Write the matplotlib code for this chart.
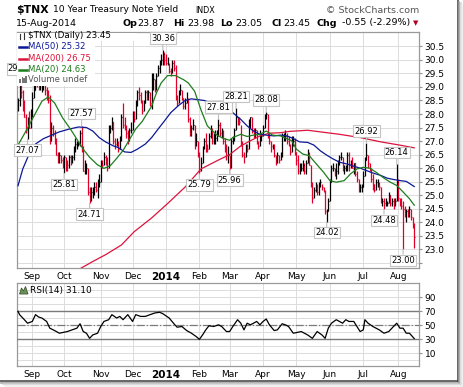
import numpy as np
import matplotlib.pyplot as plt
from matplotlib.lines import Line2D
from matplotlib.patches import Rectangle, Polygon

# ---- daily bars, 20-Aug-2013 .. 15-Aug-2014 (250 trading days) ----
highs = [28.6, 29.22, 29.1, 28.9, 28.5, 28.0, 27.9, 28.1, 28.2, 28.8,
         29.2, 29.9, 30.07, 29.4, 29.3, 29.3, 29.3, 29.2, 29.0, 28.9,
         28.7, 27.7, 27.6, 27.4, 27.1, 26.6, 26.6, 26.5, 26.4, 26.5,
         26.4, 26.3, 26.5, 26.5, 26.5, 26.8, 27.1, 27.0, 27.0, 27.4,
         27.57, 26.8, 26.3, 26.2, 26.0, 25.3, 25.3, 25.3, 25.5, 25.5,
         25.6, 25.8, 26.3, 26.3, 26.6, 26.5, 26.4, 27.6, 27.6, 27.9,
         27.7, 27.1, 27.1, 27.0, 27.2, 28.0, 28.4, 27.9, 27.6, 27.4,
         27.5, 27.7, 28.1, 28.1, 28.5, 28.9, 29.0, 28.8, 28.5, 28.5,
         28.9, 28.9, 28.9, 28.8, 29.5, 29.5, 29.3, 29.5, 29.8, 30.0,
         30.2, 30.36, 30.3, 30.2, 30.1, 29.9, 29.7, 30.0, 30.0, 29.8,
         28.7, 28.9, 29.1, 28.9, 28.6, 28.6, 28.8, 28.6, 27.9, 27.6,
         27.8, 27.6, 27.3, 27.0, 26.6, 26.4, 26.8, 27.1, 27.3, 26.9,
         27.3, 27.6, 27.5, 27.3, 27.4, 27.4, 27.81, 27.7, 27.5, 27.4,
         27.1, 26.9, 26.8, 26.5, 27.1, 27.2, 27.5, 28.21, 27.9, 27.9,
         27.6, 27.0, 26.6, 26.9, 26.9, 27.8, 27.9, 27.9, 27.5, 27.5,
         27.4, 27.0, 27.4, 27.3, 27.6, 28.0, 28.08, 28.0, 27.3, 27.0,
         26.9, 26.9, 26.5, 26.6, 26.5, 26.6, 27.3, 27.3, 27.4, 27.3,
         27.2, 26.9, 27.2, 27.2, 27.1, 26.6, 26.5, 26.2, 26.2, 26.3,
         26.2, 26.3, 26.7, 26.6, 26.1, 25.5, 25.3, 25.5, 25.4, 25.5,
         25.6, 25.4, 25.3, 25.2, 24.5, 24.9, 25.6, 26.1, 26.2, 26.0,
         26.2, 26.3, 26.5, 26.6, 26.4, 26.1, 26.1, 26.6, 26.6, 26.3,
         26.4, 26.2, 26.2, 25.9, 25.6, 25.4, 25.4, 25.9, 26.4, 26.92,
         26.5, 26.2, 26.0, 25.8, 25.4, 25.6, 25.6, 25.5, 25.3, 24.9,
         24.9, 24.9, 24.8, 25.1, 25.0, 24.9, 24.9, 24.9, 26.14, 25.6,
         24.9, 24.9, 24.8, 24.6, 24.5, 24.5, 24.6, 24.5, 24.2, 23.98]
lows = [28.1, 28.3, 28.6, 28.1, 27.9, 27.3, 27.07, 27.5, 27.5, 27.9,
        28.6, 28.9, 29.0, 28.9, 28.9, 28.8, 28.9, 28.7, 28.5, 28.4,
        26.9, 27.0, 27.2, 26.9, 26.5, 26.2, 26.2, 26.2, 26.0, 25.81,
        25.9, 25.9, 26.0, 26.1, 26.2, 26.3, 26.6, 26.7, 26.8, 26.8,
        26.6, 25.9, 25.8, 25.8, 25.0, 24.71, 24.8, 24.9, 25.0, 25.1,
        24.9, 25.3, 25.5, 26.0, 26.1, 26.1, 25.9, 26.0, 27.3, 27.4,
        26.9, 26.7, 26.8, 26.6, 26.7, 27.0, 27.5, 27.4, 27.1, 26.9,
        27.0, 27.3, 27.4, 27.7, 27.8, 28.3, 28.5, 28.4, 28.0, 28.1,
        28.4, 28.5, 28.5, 28.3, 28.2, 28.9, 28.8, 28.9, 29.4, 29.5,
        29.8, 29.8, 29.8, 29.8, 29.8, 29.5, 29.4, 29.5, 29.6, 28.5,
        28.3, 28.4, 28.7, 28.5, 28.2, 28.2, 28.4, 27.7, 27.2, 27.2,
        27.4, 26.7, 26.8, 26.4, 25.79, 25.9, 26.2, 26.7, 26.6, 26.6,
        26.7, 27.1, 26.9, 26.9, 26.9, 27.0, 27.2, 27.2, 27.1, 26.9,
        26.6, 26.3, 26.2, 25.96, 26.0, 26.9, 27.0, 27.4, 27.6, 27.6,
        26.8, 26.4, 26.2, 26.4, 26.6, 26.7, 27.5, 27.3, 27.1, 27.1,
        26.9, 26.7, 26.8, 27.0, 27.2, 27.5, 27.8, 27.1, 26.9, 26.6,
        26.7, 26.4, 26.1, 26.2, 26.2, 26.3, 26.4, 27.0, 27.0, 26.9,
        26.8, 26.5, 26.6, 26.8, 26.5, 26.1, 25.8, 25.8, 25.9, 25.9,
        25.8, 25.8, 26.2, 26.1, 25.3, 24.7, 24.9, 25.1, 25.0, 25.0,
        25.3, 25.2, 25.1, 24.3, 24.02, 24.4, 24.8, 25.5, 25.9, 25.7,
        25.6, 25.8, 26.1, 26.3, 25.9, 25.8, 25.9, 25.9, 25.9, 26.0,
        26.0, 25.8, 25.7, 25.5, 25.1, 25.1, 25.1, 25.3, 25.7, 26.3,
        26.0, 25.9, 25.5, 25.2, 25.1, 25.2, 25.3, 25.2, 24.7, 24.6,
        24.48, 24.6, 24.6, 24.7, 24.6, 24.6, 24.5, 24.6, 24.8, 24.8,
        24.6, 24.5, 23.0, 24.2, 24.0, 24.2, 24.2, 24.1, 23.8, 23.05]
closes = [28.5, 29.0, 28.8, 28.2, 27.9, 27.4, 27.8, 27.5, 27.8, 28.6,
          28.9, 29.8, 29.3, 29.0, 29.1, 29.1, 29.1, 28.9, 28.6, 28.5,
          27.0, 27.5, 27.3, 27.1, 26.5, 26.4, 26.5, 26.3, 26.1, 26.4,
          26.2, 26.1, 26.4, 26.3, 26.4, 26.7, 26.9, 26.9, 26.9, 27.3,
          26.7, 25.9, 25.9, 26.0, 25.1, 25.0, 25.1, 25.1, 25.3, 25.2,
          25.4, 25.5, 26.2, 26.1, 26.4, 26.3, 26.0, 27.5, 27.5, 27.7,
          27.0, 26.9, 27.0, 26.7, 27.1, 27.9, 27.6, 27.5, 27.3, 27.0,
          27.4, 27.4, 28.0, 27.8, 28.4, 28.8, 28.7, 28.5, 28.1, 28.4,
          28.8, 28.6, 28.8, 28.4, 28.9, 29.3, 28.9, 29.4, 29.7, 29.8,
          30.0, 30.2, 30.0, 29.9, 29.9, 29.6, 29.5, 29.9, 29.7, 28.6,
          28.4, 28.8, 28.9, 28.6, 28.3, 28.4, 28.7, 27.8, 27.3, 27.5,
          27.6, 26.8, 27.0, 26.5, 25.9, 26.2, 26.7, 27.0, 26.8, 26.7,
          27.2, 27.5, 27.0, 27.1, 27.1, 27.3, 27.6, 27.3, 27.4, 27.0,
          26.7, 26.5, 26.5, 26.0, 27.0, 27.1, 27.4, 27.9, 27.8, 27.7,
          26.9, 26.5, 26.4, 26.8, 26.7, 27.7, 27.9, 27.4, 27.3, 27.4,
          27.0, 26.8, 27.2, 27.2, 27.5, 27.9, 28.0, 27.2, 27.0, 26.8,
          26.9, 26.5, 26.2, 26.5, 26.3, 26.4, 27.2, 27.2, 27.2, 27.0,
          26.9, 26.6, 27.0, 27.0, 26.6, 26.3, 25.9, 26.0, 26.0, 26.1,
          25.9, 26.2, 26.6, 26.1, 25.4, 24.9, 25.2, 25.4, 25.1, 25.4,
          25.5, 25.3, 25.2, 24.4, 24.4, 24.8, 25.5, 26.0, 26.0, 25.9,
          25.9, 26.2, 26.4, 26.4, 26.0, 26.0, 26.0, 26.5, 26.1, 26.2,
          26.0, 26.2, 25.8, 25.6, 25.3, 25.3, 25.3, 25.7, 26.3, 26.5,
          26.2, 26.0, 25.6, 25.4, 25.2, 25.5, 25.5, 25.3, 24.8, 24.8,
          24.7, 24.7, 24.7, 25.0, 24.7, 24.8, 24.6, 24.8, 25.5, 24.9,
          24.8, 24.6, 24.5, 24.3, 24.4, 24.3, 24.5, 24.2, 24.0, 23.45]

# moving averages (bar index -> value)
ma20_idx = [0, 5, 10, 15, 19, 23, 28, 33, 37, 41, 45, 50, 54, 58, 62, 66, 70, 74, 78, 84,
            87, 90, 94, 99, 104, 107, 111, 115, 119, 125, 129, 133, 135, 140, 144, 148, 152,
            156, 160, 165, 169, 172, 175, 179, 183, 188, 192, 196, 200, 205, 209, 213, 217,
            221, 225, 230, 234, 238, 242, 246, 249]
ma20_val = [26.85, 27.37, 27.92, 28.47, 28.63, 28.41, 27.86, 27.44, 27.07, 26.70, 26.40,
            26.12, 25.99, 26.09, 26.36, 26.65, 27.05, 27.45, 27.72, 28.29, 28.78, 29.15,
            29.42, 29.42, 29.27, 29.15, 28.84, 28.15, 27.56, 27.22, 27.10, 27.03, 27.13,
            27.25, 27.17, 27.22, 27.25, 27.37, 27.22, 27.19, 27.09, 27.01, 26.70, 26.52,
            26.46, 26.12, 25.85, 25.54, 25.48, 25.54, 25.79, 25.97, 26.03, 26.0, 25.85,
            25.63, 25.48, 25.36, 25.12, 24.87, 24.63]
ma50_idx = [0, 3, 7, 11, 16, 20, 26, 32, 38, 43, 47, 51, 55, 60, 63, 67, 71, 75, 80, 84,
            88, 92, 96, 101, 105, 109, 113, 117, 122, 126, 131, 135, 140, 144, 148, 152,
            156, 161, 165, 169, 173, 177, 182, 186, 190, 194, 198, 202, 207, 211, 215,
            219, 223, 228, 232, 236, 240, 244, 249]
ma50_val = [25.35, 25.97, 26.52, 26.89, 27.09, 27.19, 27.34, 27.44, 27.52, 27.5, 27.37,
            27.13, 26.97, 26.82, 26.76, 26.60, 26.58, 26.70, 26.89, 27.13, 27.44, 27.74,
            28.05, 28.32, 28.5, 28.56, 28.53, 28.5, 28.39, 28.32, 28.19, 28.05, 27.8,
            27.56, 27.37, 27.25, 27.22, 27.19, 27.22, 27.19, 27.09, 26.97, 26.95, 26.85,
            26.64, 26.48, 26.34, 26.22, 26.15, 26.07, 26.0, 25.91, 25.82, 25.73, 25.63,
            25.58, 25.54, 25.51, 25.32]
ma200_idx = [38, 47, 55, 65, 73, 84, 94, 105, 115, 126, 133, 140, 146, 152, 158, 165, 171,
             177, 182, 190, 202, 215, 228, 240, 249]
ma200_val = [22.25, 22.55, 22.80, 23.16, 23.65, 24.16, 24.69, 25.30, 25.97, 26.30, 26.50,
             26.82, 27.01, 27.19, 27.29, 27.31, 27.36, 27.38, 27.40, 27.34, 27.25, 27.13,
             26.97, 26.85, 26.75]

# RSI(14)
rsi_idx = [0, 1, 4, 6, 9, 11, 13, 15, 18, 20, 23, 26, 31, 34, 37, 39, 41, 43, 45, 47, 50,
           52, 54, 57, 59, 62, 64, 66, 69, 72, 74, 77, 80, 83, 86, 89, 91, 95, 98, 100, 103,
           106, 109, 112, 114, 116, 118, 120, 123, 126, 128, 131, 133, 135, 138, 140, 142,
           144, 146, 148, 150, 152, 154, 156, 158, 161, 163, 166, 168, 170, 173, 175, 178,
           182, 185, 188, 191, 193, 195, 197, 200, 204, 206, 208, 211, 213, 215, 217, 218,
           220, 223, 227, 230, 233, 236, 238, 240, 242, 244, 246, 249]
rsi_val = [70, 65.2, 58, 53, 55.5, 65.2, 61.8, 60.4, 55.5, 45.9, 42.5, 38.7, 41.1, 43.5,
           45.9, 52.2, 41.1, 38.7, 31.4, 36.3, 38.7, 48.3, 55.5, 58, 65.2, 60.4, 62.7, 58,
           65.2, 55.5, 65.2, 62.7, 62.7, 65.2, 67.6, 68.6, 66.6, 60.4, 52.2, 47.3, 48.3,
           42.5, 38.7, 33.9, 30, 36.3, 43.5, 49.3, 48.3, 50.7, 48.3, 41.1, 41.1, 48.3, 58,
           53, 43.5, 53, 50.7, 53, 55.5, 50.7, 55.5, 59, 50.7, 42.5, 43.5, 52.2, 50.7, 48.3,
           38.7, 39.6, 41.1, 36.3, 31.4, 41.1, 36.3, 31.4, 45.9, 53, 58, 53, 58, 55.5, 55.5,
           48.3, 41.1, 43.5, 58, 53, 48.3, 43.5, 38.7, 41.1, 48.3, 53, 45.9, 45.9, 38.7,
           38.7, 31.1]

# labelled highs / lows
ann_idx = [1, 6, 29, 40, 45, 91, 114, 126, 133, 137, 156, 194, 219, 230, 238, 242]
ann_kind = ['hi', 'lo', 'lo', 'hi', 'lo', 'hi', 'lo', 'hi', 'lo', 'hi', 'hi', 'lo', 'hi',
            'lo', 'hi', 'lo']

month_idx = [9, 29, 52, 72, 93, 114, 133, 154, 175, 196, 217, 239]
month_lbl = ['Sep', 'Oct', 'Nov', 'Dec', '2014', 'Feb', 'Mar', 'Apr', 'May', 'Jun', 'Jul', 'Aug']

RED = '#e0002a'
W, H = 464, 387

def fx(px):
    return px / W

def fy(py):
    return 1 - py / H

fig = plt.figure(figsize=(W / 100, H / 100), dpi=100)
ax = fig.add_axes([fx(16.5), fy(268), (419 - 16.5) / W, (268 - 32) / H])
rx = fig.add_axes([fx(16.5), fy(366), (419 - 16.5) / W, (366 - 283) / H])

# price bars (HLC)
x = np.arange(len(closes))
bar_col = ['#000000' if i == 0 or closes[i] >= closes[i - 1] else RED for i in x]
ax.vlines(x, lows, highs, colors=bar_col, lw=0.9, zorder=3)
ax.hlines(closes, x, x + 0.5, colors=bar_col, lw=0.9, zorder=3)

ax.plot(ma200_idx, ma200_val, color='#dc143c', lw=0.9, zorder=4)
ax.plot(ma50_idx, ma50_val, color='#0c1896', lw=0.9, zorder=4)
ax.plot(ma20_idx, ma20_val, color='#1d7d1d', lw=0.9, zorder=4)

for i, k in zip(ann_idx, ann_kind):
    v = highs[i] if k == 'hi' else lows[i]
    ax.annotate(f'{v:.2f}', xy=(i, v), xytext=(0, 12 if k == 'hi' else -11),
                textcoords='offset pixels', ha='center', va='center', fontsize=6,
                bbox=dict(boxstyle='square,pad=0.15', fc='white', ec='#c4c4c4', lw=0.8),
                arrowprops=dict(arrowstyle='-', color='#bdbdbd', lw=0.8,
                                shrinkA=0, shrinkB=0),
                zorder=6)

ax.set_ylim(22.31, 31.03)
ax.set_yticks(np.arange(22.5, 30.51, 0.5))
ax.set_yticklabels([''] + [f'{v:.1f}' for v in np.arange(23.0, 30.51, 0.5)])

# RSI panel
rx.plot(rsi_idx, rsi_val, color='#000000', lw=0.9, zorder=4)
rx.axhline(70, color='#7a7a7a', lw=1.0, zorder=3)
rx.axhline(30, color='#7a7a7a', lw=1.0, zorder=3)
rx.axhline(50, color='#7a7a7a', lw=0.9, ls='-.', zorder=3)
rx.set_ylim(-8.1, 110.4)
rx.set_yticks([10, 30, 50, 70, 90])
rx.set_yticks([0, 20, 40, 60, 80, 100], minor=True)
rx.tick_params(axis='y', which='minor', length=0)

for a in (ax, rx):
    a.set_xlim(-0.94, 252.0)
    a.set_xticks(month_idx)
    a.set_xticklabels(month_lbl)
    a.tick_params(axis='x', length=0, pad=3, labelsize=6.5)
    a.yaxis.tick_right()
    a.tick_params(axis='y', length=2.5, pad=1.5, labelsize=6.5, color='#909090')
    a.grid(True, which='both', color='#dcdcdc', lw=0.7)
    a.set_axisbelow(True)
    for s in a.spines.values():
        s.set_color('#9a9a9a')
        s.set_linewidth(0.9)
    lbl = a.get_xticklabels()[4]
    lbl.set_fontweight('bold')
    lbl.set_fontsize(7.5)

# legend block (opaque, hides bars underneath)
fig.add_artist(Rectangle((fx(17.5), fy(85.5)), (95 - 17.5) / W, (85.5 - 41) / H,
                         transform=fig.transFigure, fc='white', ec='none', zorder=1))
fig.add_artist(Rectangle((fx(17.5), fy(41)), (137 - 17.5) / W, (41 - 32.6) / H,
                         transform=fig.transFigure, fc='white', ec='none', zorder=1))

fig.text(fx(28), fy(36), r'\$TNX (Daily) 23.45', fontsize=6.3, va='center')
fig.add_artist(Line2D([fx(20.5), fx(20.5)], [fy(33.5), fy(39)], color='#333333', lw=0.8,
                      transform=fig.transFigure))
fig.add_artist(Line2D([fx(24.5), fx(24.5)], [fy(33), fy(38.5)], color='#333333', lw=0.8,
                      transform=fig.transFigure))
leg = [('MA(50) 25.32', '#0c1896', 47), ('MA(200) 26.75', '#dc143c', 58.5),
       ('MA(20) 24.63', '#1d7d1d', 69.5)]
for txt, col, yy in leg:
    fig.add_artist(Line2D([fx(19.5), fx(27)], [fy(yy), fy(yy)], color=col, lw=1.8,
                          transform=fig.transFigure))
    fig.text(fx(28), fy(yy), txt, fontsize=6.1, color=col, va='center')
for bx, bh in [(19.5, 4), (21.5, 6), (23.5, 5), (25.5, 7)]:
    fig.add_artist(Rectangle((fx(bx), fy(83)), 1.4 / W, bh / H, transform=fig.transFigure,
                             fc='#777777', ec='none'))
fig.text(fx(28), fy(79.5), 'Volume undef', fontsize=6.1, color='#555555', va='center')

# RSI legend
fig.add_artist(Polygon([(fx(19.5), fy(294)), (fx(21.5), fy(288)), (fx(23.5), fy(291)),
                        (fx(25.5), fy(286.5)), (fx(28), fy(294))], closed=True,
                       transform=fig.transFigure, fc='#6e8f5e', ec='#3a5a2a', lw=0.6))
fig.text(fx(30), fy(290.5), 'RSI(14) 31.10', fontsize=6.5, va='center')

# header
fig.text(fx(16), fy(10), r'\$TNX', fontsize=7.8, fontweight='bold', va='center')
fig.text(fx(53), fy(10), '10 Year Treasury Note Yield', fontsize=6.6, va='center')
fig.text(fx(195), fy(10.5), 'INDX', fontsize=5.8, va='center')
fig.text(fx(419), fy(10.5), '© StockCharts.com', fontsize=6.8, color='#555555',
         va='center', ha='right')
fig.text(fx(16), fy(23), '15-Aug-2014', fontsize=6.8, va='center')
parts = [('Op', 123, True), ('23.87', 137, False), ('Hi', 173, True), ('23.98', 187, False),
         ('Lo', 220, True), ('23.05', 235, False), ('Cl', 271, True), ('23.45', 283, False),
         ('Chg', 317, True), ('-0.55 (-2.29%)', 342, False)]
for t, px, b in parts:
    fig.text(fx(px), fy(23), t, fontsize=6.8, va='center',
             fontweight='bold' if b else 'normal')
fig.text(fx(413), fy(23.5), '▼', fontsize=5, color='#b0002a', va='center')

# picture frame with shadow (right and bottom edges)
for off, col in [(0, '#3c3c3c'), (1.5, '#9a9a9a'), (3, '#cfcfcf'), (4.5, '#ececec')]:
    fig.add_artist(Line2D([fx(458 + off), fx(458 + off)], [fy(0 + off), fy(381 + off)],
                          color=col, lw=1.1, transform=fig.transFigure))
    fig.add_artist(Line2D([fx(0 + off), fx(458 + off)], [fy(381 + off), fy(381 + off)],
                          color=col, lw=1.1, transform=fig.transFigure))

fig.savefig('out.png', dpi=100)
